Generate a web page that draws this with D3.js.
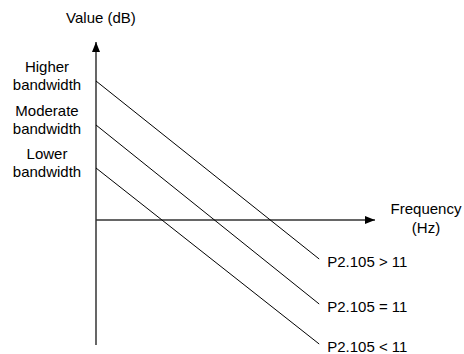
<!DOCTYPE html>
<meta charset="utf-8">
<style>
body { margin: 0; background: #fff; }
text { font-family: "Liberation Sans", Arial, sans-serif; font-size: 15px; fill: #000; }
</style>
<svg id="plot" width="464" height="354"></svg>
<script src="https://cdn.jsdelivr.net/npm/d3@7"></script>
<script>

// series: start value at f=0 and end value at f=8 (arbitrary units)
var seriesLeft = [["Higher", "bandwidth"], ["Moderate", "bandwidth"], ["Lower", "bandwidth"]];
var seriesRight = ["P2.105 > 11", "P2.105 = 11", "P2.105 < 11"];
var startVals = [13.9, 9.5, 5.2];
var endVals = [-3.9, -8.4, -12.4];
var freqStart = 0, freqEnd = 8;

var svg = d3.select("svg");

var x = d3.scaleLinear().domain([0, 10]).range([96, 375]);
var y = d3.scaleLinear().domain([-12.5, 17.8]).range([345, 42]);

var defs = svg.append("defs");
defs.append("marker")
    .attr("id", "arrow")
    .attr("viewBox", "0 0 10 10")
    .attr("refX", 10).attr("refY", 5)
    .attr("markerWidth", 10).attr("markerHeight", 10)
    .attr("markerUnits", "userSpaceOnUse")
    .attr("orient", "auto")
  .append("path")
    .attr("d", "M0,1L10,5L0,9Z")
    .attr("fill", "#000");

// axes
svg.append("line")
    .attr("x1", x(0)).attr("y1", y(-12.5))
    .attr("x2", x(0)).attr("y2", y(17.8))
    .attr("stroke", "#000").attr("stroke-width", 1.2)
    .attr("marker-end", "url(#arrow)");

svg.append("line")
    .attr("x1", x(0)).attr("y1", y(0))
    .attr("x2", x(10)).attr("y2", y(0))
    .attr("stroke", "#333").attr("stroke-width", 1.4)
    .attr("marker-end", "url(#arrow)");

svg.append("text").attr("x", x(0) + 5).attr("y", 23).attr("text-anchor", "middle").text("Value (dB)");

var fl = svg.append("text").attr("text-anchor", "middle");
fl.append("tspan").attr("x", 426).attr("y", 214).text("Frequency");
fl.append("tspan").attr("x", 426).attr("y", 233).text("(Hz)");

// lines
svg.selectAll(".bw").data(startVals).enter().append("line")
    .attr("class", "bw")
    .attr("x1", x(freqStart)).attr("y1", function(d) { return y(d); })
    .attr("x2", x(freqEnd)).attr("y2", function(d, i) { return y(endVals[i]); })
    .attr("stroke", "#000").attr("stroke-width", 1);

// left labels
svg.selectAll(".lbl").data(seriesLeft).enter().append("text")
    .attr("class", "lbl")
    .attr("text-anchor", "middle")
    .each(function(d, i) {
      var t = d3.select(this);
      var yy = y(startVals[i]);
      t.append("tspan").attr("x", 47).attr("y", yy - 9).text(d[0]);
      t.append("tspan").attr("x", 47).attr("y", yy + 9).text(d[1]);
    });

// right labels
svg.selectAll(".rl").data(seriesRight).enter().append("text")
    .attr("class", "rl")
    .attr("x", x(freqEnd) + 8)
    .attr("y", function(d, i) { return y(endVals[i]) + 8; })
    .text(function(d) { return d; });

</script>
